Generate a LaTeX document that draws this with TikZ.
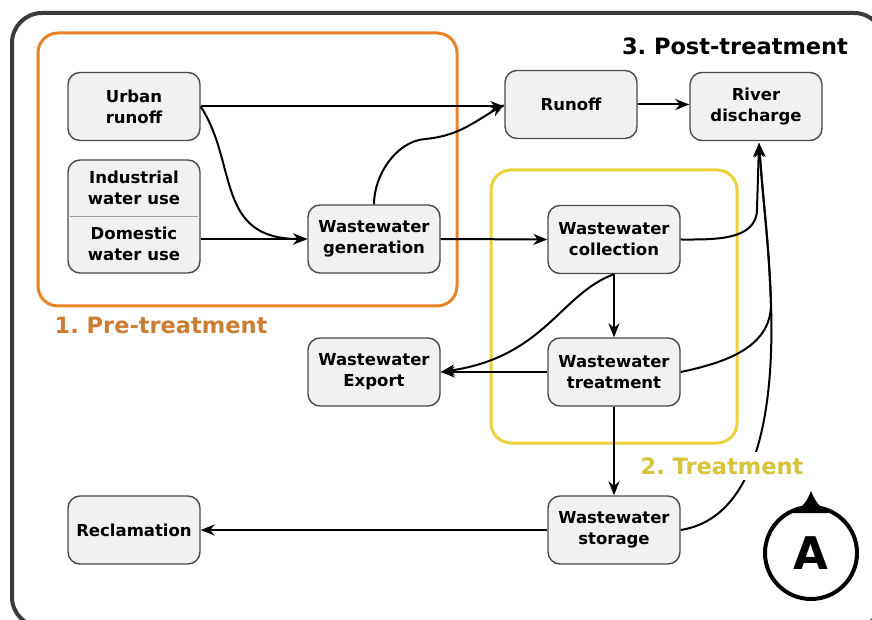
\documentclass[tikz,border=0pt]{standalone}
\usepackage{fontspec}
\setmainfont{DejaVu Sans}
\usetikzlibrary{arrows.meta,calc}
\definecolor{framegray}{HTML}{3A3A3A}
\definecolor{boxdraw}{HTML}{4A4A4A}
\definecolor{boxfill}{HTML}{F1F1F1}
\definecolor{dividergray}{HTML}{9A9A9A}
\definecolor{orangeframe}{HTML}{E88328}
\definecolor{pretext}{HTML}{CD7D32}
\definecolor{yellowframe}{HTML}{EBD23C}
\definecolor{treattext}{HTML}{D7C337}
\newcommand{\boxfont}{\bfseries\fontsize{16.5}{21}\selectfont}
\newcommand{\stagefont}{\bfseries\fontsize{22.5}{27}\selectfont}
\frenchspacing
\begin{document}
\begin{tikzpicture}[x=1pt,y=1pt,
  box/.style={draw=boxdraw, fill=boxfill, rounded corners=12pt, line width=1.4pt,
    minimum width=132pt, minimum height=68pt, align=center, font=\boxfont,
    text=black, inner sep=0pt},
  plaintext/.style={align=center, font=\boxfont, text=black, inner sep=0pt},
  arr/.style={-{Stealth[length=14pt,width=11pt,inset=4.5pt]}, line width=2pt, black},
  stagelabel/.style={font=\stagefont, inner sep=0pt}]
\useasboundingbox (0,0) rectangle (872,619);
% frames
\draw[framegray, line width=4pt, rounded corners=30pt] (12,606) rectangle (884,-8);
\draw[orangeframe, line width=3pt, rounded corners=20pt] (38,586) rectangle (457,313);
\draw[yellowframe, line width=3pt, rounded corners=20pt] (491,449) rectangle (737,176);
% stage labels
\node[stagelabel, text=pretext] (pre) at (161,294) {1. Pre-treatment};
\node[stagelabel, text=black] (post) at (735,573) {3. Post-treatment};
% boxes
\node[box] (urban) at (134,512.5) {Urban\\runoff};
\node[box, minimum height=113pt] (inddom) at (134,402.5) {};
\node[plaintext] (ind) at (134,431) {Industrial\\water use};
\node[plaintext] (dom) at (134,375.5) {Domestic\\water use};
\draw[dividergray, line width=0.9pt] ($(inddom.west)+(3,0)$) -- ($(inddom.east)+(-3,0)$);
\node[box] (wwgen) at (374,380) {Wastewater\\generation};
\node[box] (runoff) at (571,514.5) {Runoff};
\node[box] (river) at (756,512.5) {River\\discharge};
\node[box] (collection) at (614,379.5) {Wastewater\\collection};
\node[box] (treatment) at (614,247) {Wastewater\\treatment};
\node[box] (export) at (374,247) {Wastewater\\Export};
\node[box] (storage) at (614,89) {Wastewater\\storage};
\node[box] (reclamation) at (134,89) {Reclamation};
% helper coordinates
\coordinate (rin) at (759,476);
\coordinate (join) at (771,315);
\coordinate (colup) at (757,410);
% connectors
\draw[arr] (urban.east) -- (urban.east -| runoff.west);
\draw[arr] (urban.east) .. controls (238,455) and (215,380) .. (wwgen.west);
\draw[arr] (inddom.east |- wwgen.west) -- (wwgen.west);
\draw[arr] (wwgen.north) to[out=90,in=185,looseness=0.9] (425,480) to[out=5,in=210] (runoff.west);
\draw[arr] (runoff.east) -- (runoff.east -| river.west);
\draw[arr] (wwgen.east) -- (collection.west);
\draw[arr] (collection.east) to[out=0,in=-90] (colup) -- (rin);
\draw[arr] (collection.south) -- (treatment.north);
\draw[arr] (collection.south) .. controls (560,325) and (545,262) .. (export.east);
\draw[arr] (treatment.west) -- (export.east);
\draw[arr] (treatment.east) to[out=12,in=-90] (join) to[out=92,in=-86] (rin);
\draw[arr] (storage.east) .. controls (750,100) and (775,190) .. (join) to[out=92,in=-86] (rin);
\draw[arr] (treatment.south) -- (storage.north);
\draw[arr] (storage.west) -- (reclamation.east);
% treatment label (cuts the line behind it)
\node[stagelabel, text=treattext, fill=white, inner xsep=2pt, inner ysep=5pt] (treat) at (722,153) {2. Treatment};
% A marker
\node[circle, draw=black, line width=4pt, minimum size=92pt, inner sep=0pt,
  font=\bfseries\fontsize{45}{45}\selectfont] (amark) at (811,66) {A};
\fill[black] (793,106) .. controls (803,112) and (807,118) .. (811,128)
  .. controls (815,118) and (819,112) .. (829,106) -- cycle;
\end{tikzpicture}
\end{document}
